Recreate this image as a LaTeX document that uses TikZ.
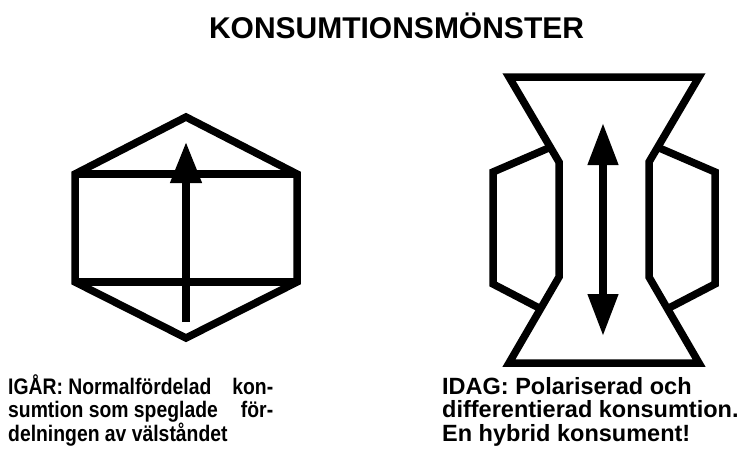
\documentclass[tikz,border=0pt]{standalone}
\usepackage{fontspec}
\setmainfont{Liberation Sans}
\newfontfamily\narrowsans{Liberation Sans}[FakeStretch=0.86]
\usetikzlibrary{arrows.meta}
\begin{document}
\begin{tikzpicture}[x=1pt,y=-1pt,
  shapeline/.style={line width=7.5pt, line join=miter},
  upar/.style={line width=7.5pt, -{Triangle[length=41pt,width=30pt]}},
  dbar/.style={line width=7.5pt, {Triangle[length=42pt,width=29pt]}-{Triangle[length=42pt,width=29pt]}},
  capt/.style={anchor=base west, inner sep=0pt, align=left}]
\useasboundingbox (0,0) rectangle (739,461);
\node[anchor=base, inner sep=0pt, font=\fontsize{30}{32}\selectfont\bfseries] (title) at (396.5,38.5) {KONSUMTIONSMÖNSTER};
% left figure: hexagon with rectangle
\draw[shapeline] (186,117) -- (297,174) -- (297,282) -- (186,338) -- (75,282) -- (75,174) -- cycle;
\draw[shapeline] (75,174) -- (297,174) (75,282) -- (297,282);
\coordinate (l1) at (186,322);
\coordinate (l2) at (186,142);
\draw[upar] (l1) -- (l2);
% right figure: hourglass with two side shapes
\draw[shapeline] (509,77) -- (699,77) -- (649,162) -- (649,277) -- (699,363) -- (509,363) -- (559,277) -- (559,162) -- cycle;
\draw[shapeline] (551,147) -- (493,172) -- (493,284) -- (541,309);
\draw[shapeline] (657,147) -- (715,172) -- (715,284) -- (667,309);
\coordinate (r1) at (603,123);
\coordinate (r2) at (603,336);
\draw[dbar] (r1) -- (r2);
% captions
\node[capt, font=\fontsize{22.5}{23.5}\selectfont\narrowsans\bfseries] (cl) at (8,441) {\makebox[265pt][l]{IGÅR: Normalfördelad\hfill kon-}\\
\makebox[265pt][l]{sumtion som speglade\hfill för-}\\
delningen av välståndet};
\node[capt, font=\fontsize{23.5}{23.5}\selectfont\bfseries] (cr) at (442,441) {IDAG: Polariserad och\\
differentierad konsumtion.\\
En hybrid konsument!};
\end{tikzpicture}
\end{document}
